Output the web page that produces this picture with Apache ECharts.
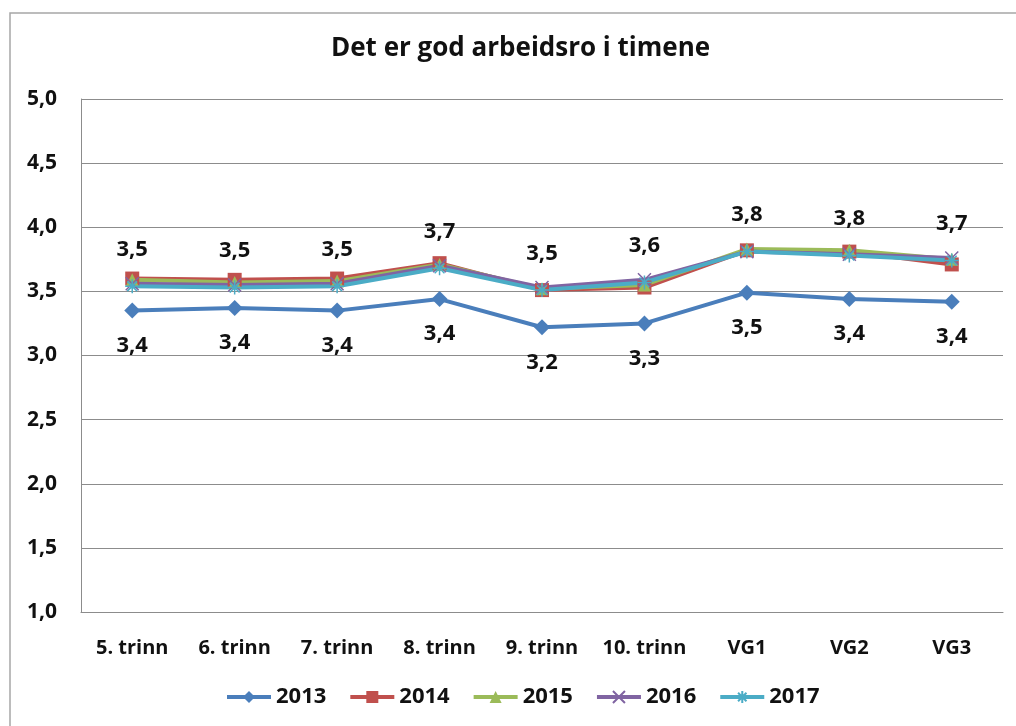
<!DOCTYPE html>
<html>
<head>
<meta charset="utf-8">
<script src="https://cdn.jsdelivr.net/npm/echarts@6/dist/echarts.min.js"></script>
<style>
html,body{margin:0;padding:0;background:#fff;}
#c{width:1016px;height:726px;}
</style>
</head>
<body>
<div id="c"></div>
<script>
const title = 'Det er god arbeidsro i timene';
const categories = ['5. trinn','6. trinn','7. trinn','8. trinn','9. trinn','10. trinn','VG1','VG2','VG3'];
const yTicks = {min: 1, max: 5, interval: 0.5};
const s2013 = [3.35, 3.37, 3.35, 3.44, 3.22, 3.25, 3.49, 3.44, 3.42];
const s2014 = [3.60, 3.59, 3.60, 3.72, 3.51, 3.53, 3.82, 3.81, 3.71];
const s2015 = [3.59, 3.57, 3.58, 3.71, 3.52, 3.55, 3.83, 3.82, 3.75];
const s2016 = [3.56, 3.55, 3.56, 3.70, 3.53, 3.59, 3.81, 3.79, 3.76];
const s2017 = [3.54, 3.53, 3.54, 3.68, 3.51, 3.57, 3.81, 3.78, 3.74];
const seriesNames = ['2013','2014','2015','2016','2017'];

const font = '"Open Sans", "Liberation Sans", sans-serif';
const fmt = v => Number(v).toFixed(1).replace('.', ',');
const xPath = 'path://M0,0L10,10M10,0L0,10';
const starPath = 'path://M5,0L5,10M0,5L10,5M1.5,1.5L8.5,8.5M8.5,1.5L1.5,8.5';

function mk(name, data, color, symbol, size, extra) {
  const s = {
    name, type: 'line', data, color,
    symbol, symbolSize: size,
    lineStyle: {width: 4, color},
    itemStyle: {color},
    emphasis: {disabled: true},
    animation: false
  };
  return Object.assign(s, extra || {});
}
const labelStyle = pos => ({
  show: true, position: pos, distance: 16,
  formatter: p => fmt(p.value),
  fontFamily: font, fontWeight: 'bold', fontSize: 22, color: '#111'
});

const chart = echarts.init(document.getElementById('c'), null, {renderer: 'canvas'});
chart.setOption({
  backgroundColor: '#fff',
  animation: false,
  title: {
    text: title, left: 326, top: 31,
    textStyle: {fontFamily: font, fontWeight: 'bold', fontSize: 26, color: '#111'}
  },
  graphic: [{
    type: 'rect', shape: {x: 10, y: 13, width: 1030, height: 740},
    style: {fill: 'none', stroke: '#a6a6a6', lineWidth: 1.5}, silent: true, z: -1
  }],
  legend: {
    bottom: 13, left: 220, itemWidth: 44, itemHeight: 15, itemGap: 22,
    lineStyle: {width: 4},
    textStyle: {fontFamily: font, fontWeight: 'bold', fontSize: 22, color: '#111'},
    data: seriesNames
  },
  grid: {left: 81, right: 13, top: 99, bottom: 114},
  xAxis: {
    type: 'category', data: categories, boundaryGap: true,
    axisLine: {lineStyle: {color: '#8c8c8c', width: 1}},
    axisTick: {show: false},
    axisLabel: {interval: 0, margin: 26, fontFamily: font, fontWeight: 'bold', fontSize: 20, color: '#111'}
  },
  yAxis: {
    type: 'value', min: yTicks.min, max: yTicks.max, interval: yTicks.interval,
    axisLine: {show: true, lineStyle: {color: '#8c8c8c', width: 1}},
    axisTick: {show: false},
    splitLine: {lineStyle: {color: '#8c8c8c', width: 1}},
    axisLabel: {margin: 24, formatter: v => fmt(v), fontFamily: font, fontWeight: 'bold', fontSize: 21, color: '#111'}
  },
  series: [
    mk('2013', s2013, '#4a7ebb', 'diamond', 16, {label: labelStyle('bottom')}),
    mk('2014', s2014, '#c0504d', 'rect', 14),
    mk('2015', s2015, '#9bbb59', 'triangle', 13),
    mk('2016', s2016, '#8064a2', xPath, 13, {itemStyle: {color: 'none', borderColor: '#8064a2', borderWidth: 1.5}}),
    mk('2017', s2017, '#4bacc6', starPath, 14, {itemStyle: {color: 'none', borderColor: '#4bacc6', borderWidth: 1.5}, label: labelStyle('top')})
  ]
});
</script>
</body>
</html>
